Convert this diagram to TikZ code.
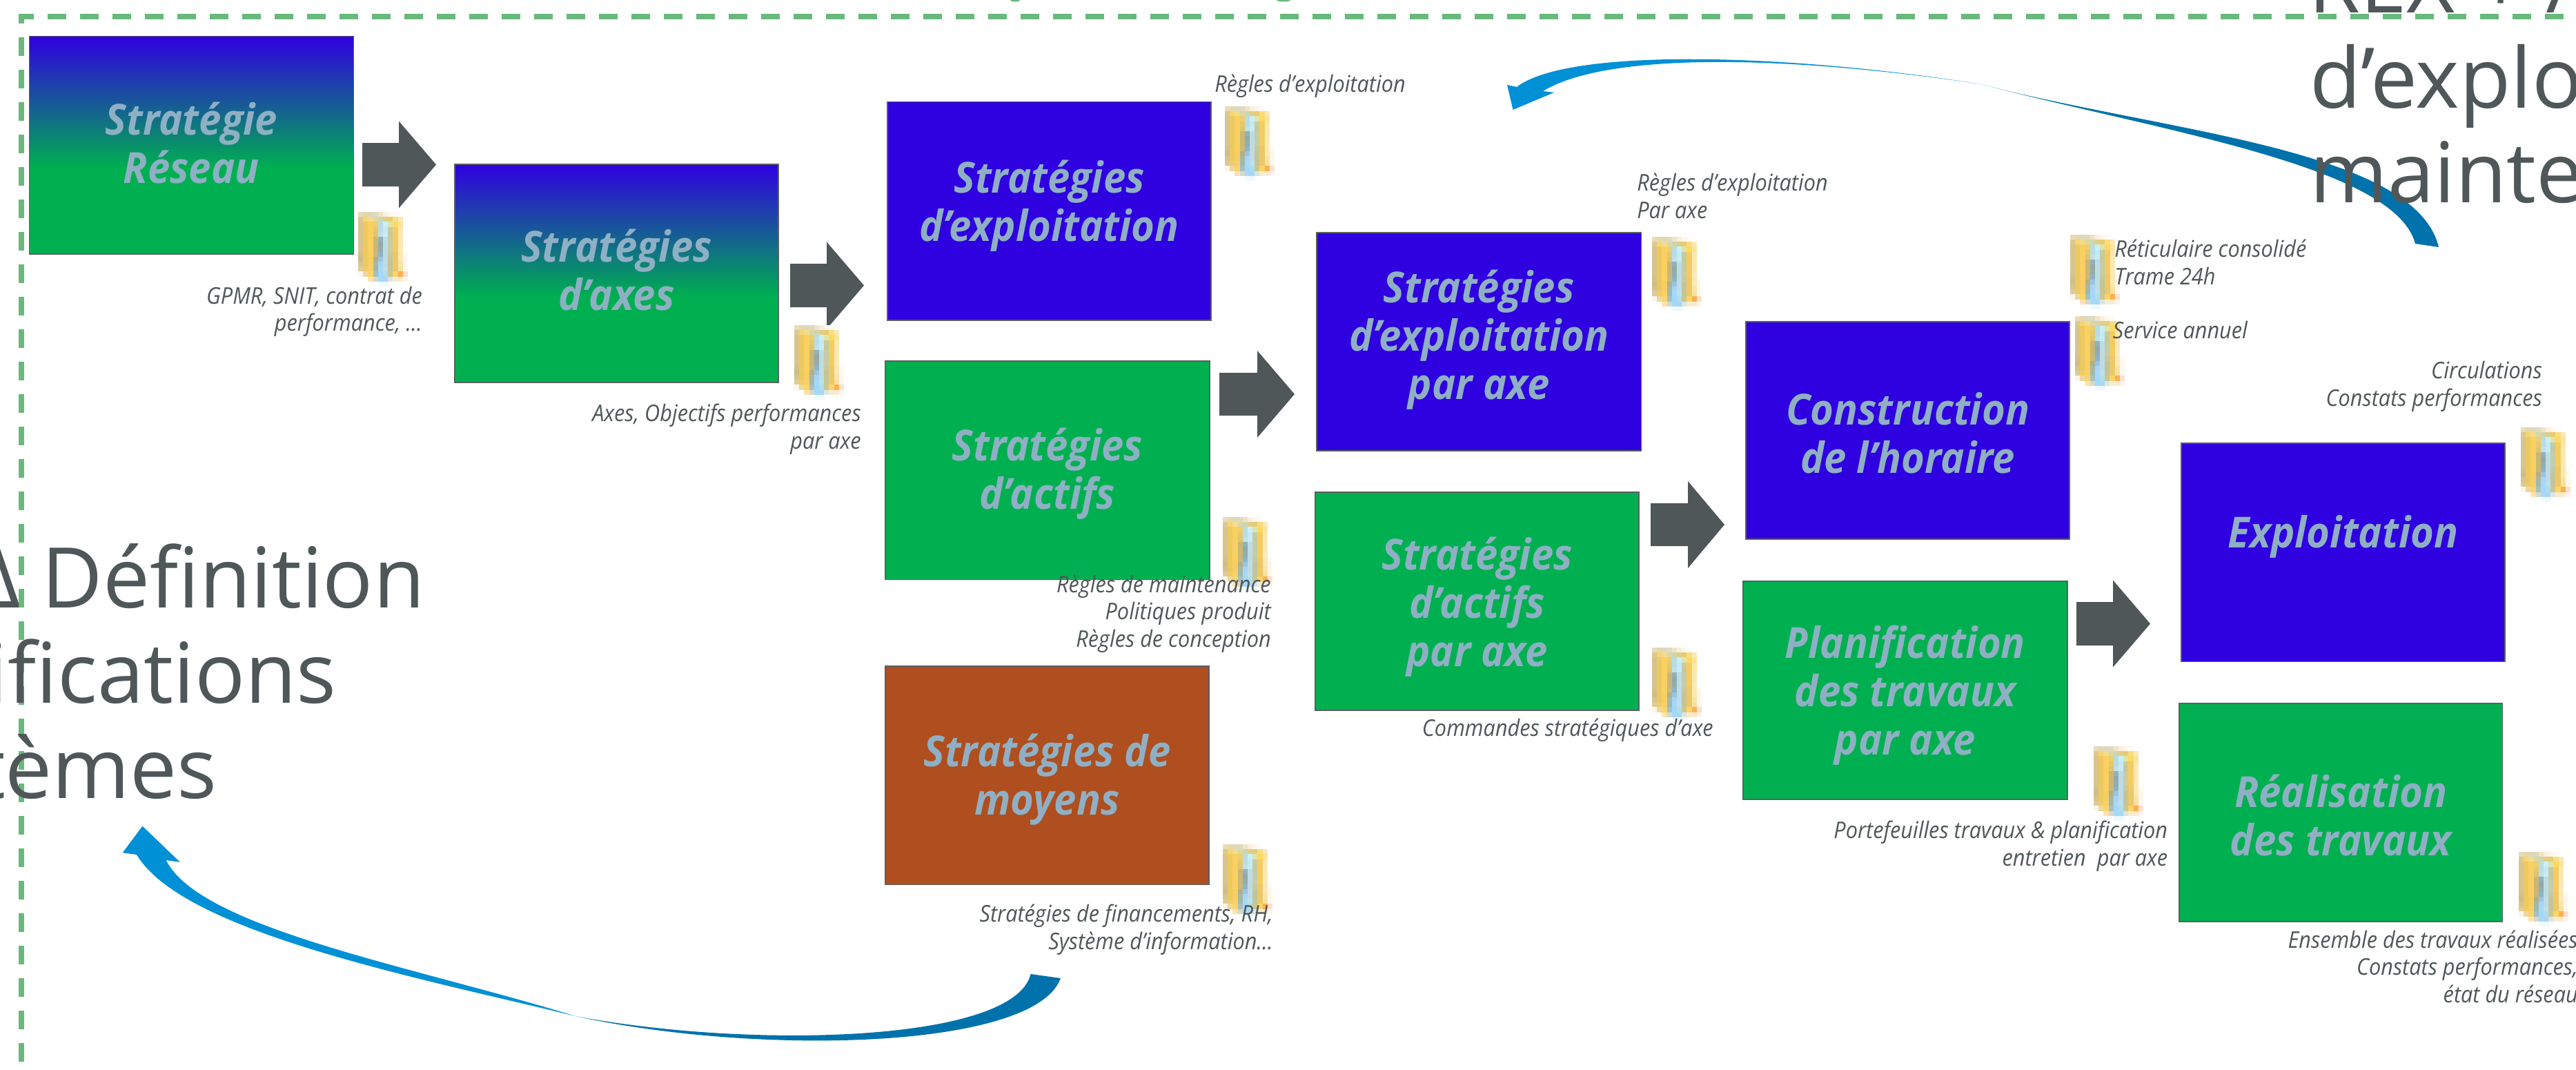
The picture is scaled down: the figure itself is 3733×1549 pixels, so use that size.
\documentclass[tikz,border=0pt]{standalone}
\usepackage{fontspec}
\usetikzlibrary{calc}
\setmainfont{Open Sans}
\newfontfamily\boxfont[FakeStretch=0.935]{Open Sans}
\newfontfamily\notefont[FakeStretch=0.92]{Open Sans}
\definecolor{bluex}{HTML}{2F00E0}
\definecolor{greenx}{HTML}{00B050}
\definecolor{brownx}{HTML}{AF4E1E}
\definecolor{labelx}{HTML}{8FB0C4}
\definecolor{grayx}{HTML}{4F5759}
\definecolor{edgex}{HTML}{5A6062}
\definecolor{dashx}{HTML}{69B97C}
\definecolor{curveA}{HTML}{0090D6}
\definecolor{curveB}{HTML}{0072AB}
\pgfdeclareverticalshading{stratshade}{100bp}{color(0bp)=(greenx); color(44.5bp)=(greenx); color(75bp)=(bluex); color(100bp)=(bluex)}
\newcommand{\iconrow}[3]{%
  \foreach \c [count=\i from #2] in {#3} {%
    \definecolor{iccell}{HTML}{\c}%
    \fill[iccell] ({(\i)*7.2},{(#1)*7.2}) rectangle ({(\i+1)*7.2+.4},{(#1+1)*7.2+.4});
  }}
\tikzset{
  x=0.75pt,y=-0.75pt,
  boxbase/.style={rectangle,draw=edgex,line width=1.3pt,inner sep=0pt,anchor=north west},
  bluebox/.style={boxbase,fill=bluex},
  greenbox/.style={boxbase,fill=greenx},
  brownbox/.style={boxbase,fill=brownx},
  gradbox/.style={boxbase,shading=stratshade},
  boxlabel/.style={text=labelx,align=center,inner sep=0pt,anchor=center,
    font=\boxfont\bfseries\itshape\fontsize{46.5}{52.5}\selectfont},
  noteR/.style={text=grayx,align=right,inner sep=0pt,anchor=base east,
    font=\notefont\itshape\fontsize{25}{29.5}\selectfont},
  noteL/.style={text=grayx,align=left,inner sep=0pt,anchor=base west,
    font=\notefont\itshape\fontsize{25}{29.5}\selectfont},
  bigR/.style={text=grayx,inner sep=0pt,anchor=base east,font=\fontsize{91}{103}\selectfont},
  bigL/.style={text=grayx,inner sep=0pt,anchor=base west,font=\fontsize{91}{103}\selectfont},
  blockarrow/.style={fill=grayx,draw=none},
  foldericon/.pic={
    \iconrow{0}{0}{E8DCB8,E4D8AC,DDD8BC,DDDABF,F2E2C4,FAEEDC,FDF6EC,FEFBF6}
    \iconrow{1}{0}{DCC890,F6D672,F4DC8C,D8D8A8,CFD6AE,E0CE88,E8CC70,FADC80,FBE8B8}
    \iconrow{2}{0}{D8C48C,EEC860,FAD060,ECCE70,B8DCE0,C8F0F8,E0E4A8,FCDA60,F8E49C}
    \iconrow{3}{0}{D8C48C,ECC860,FAD060,E4C870,B8DCE4,C4E8F4,C4CCA0,F4CC60,FCE8AC}
    \iconrow{4}{0}{D8C48C,ECC860,FAD060,E0C470,C0E0E8,C4ECF8,C8C898,F4CC60,FCE8B0}
    \iconrow{5}{0}{D8C490,ECC860,FAD060,C8B878,94B0B8,BCDCE8,C4CCA8,F4CC60,FCE8B4}
    \iconrow{6}{0}{D8C490,ECC860,FAD060,C8B878,94A8A8,BCDCE4,C4CCA8,F4CC60,FCE8B4}
    \iconrow{7}{0}{D8C490,ECC860,FAD060,C8B878,94ACB0,BCDCE4,C8CCA8,F4CC60,FCEAB8}
    \iconrow{8}{0}{D4C088,ECC860,FAD060,CCB878,8CB4C8,BCDCE4,C8C8A0,ECC868,FCE8B0,FEFAF0}
    \iconrow{9}{0}{D0BC88,ECC860,F8CE60,B0B088,9CC4E0,BCDCE8,C4C498,ECC868,FBE8B4,FEF8EC}
    \iconrow{10}{0}{D4C490,ECC860,F8CE60,A4B8A8,A8D4F4,BCDCE8,C4C498,ECC868,FAE4A8,FEF8EC}
    \iconrow{11}{0}{DCCC9C,F0CC68,F8D068,A0B8B0,A8D8F8,BCE0EC,C4C498,ECC868,F8E0A0,FEF8EC}
    \iconrow{12}{0}{FAF6EC,ECD8A0,FCD468,A4C0C0,A0D8FC,B0DCF0,C8C890,FCD468,FCB050,FCE0D0}
    \iconrow{13}{2}{FCE4B0,D8D8C8,A4D8FC,A8D8F0,DCE4E4,F8ECD0,FAEBD0,FDF4EC}
    \iconrow{14}{4}{F0FAFE,F0F8FE}
  },
}
\newcommand{\blockarr}[6]{% x0, xbase, xtip, yshafttop, yshaftbot, half head
  \fill[blockarrow] (#1,#4) -- (#2,#4) -- (#2,{(#4+#5)/2-#6}) -- (#3,{(#4+#5)/2}) -- (#2,{(#4+#5)/2+#6}) -- (#2,#5) -- (#1,#5) -- cycle;}
\begin{document}
\begin{tikzpicture}
\path[use as bounding box,clip] (0,0) rectangle (3733,1549);
\fill[white] (0,0) rectangle (3733,1549);

% dashed frame and clipped fragments
\fill[dashx] (1471,0) ellipse [x radius=7,y radius=2.5];
\fill[dashx] (1860,0) ellipse [x radius=10,y radius=2.5];
\draw[dashx,line width=5.3pt,dash pattern=on 20.25pt off 15pt,dash phase=3.75pt] (27,24) -- (3733,24);
\draw[dashx,line width=5.3pt,dash pattern=on 20.25pt off 15pt,dash phase=12.75pt] (31,24) -- (31,1549);

% curved arrows
\fill[curveA] (2192.5,159) -- (2184,123) -- (2198,126)
  .. controls (2270,70) and (2580,76) .. (2871,122)
  .. controls (2590,80) and (2330,75) .. (2236,132)
  -- (2252,134) -- cycle;
\fill[curveB] (2871,122) .. controls (3130,190) and (3500,215) .. (3534,358)
  -- (3500,353) .. controls (3470,240) and (3130,190) .. (2871,122) -- cycle;
\fill[curveA] (206.4,1196.7) -- (177.7,1235.3) -- (198,1238)
  .. controls (265,1350) and (600,1415) .. (834,1472)
  .. controls (600,1400) and (290,1345) .. (240.6,1246)
  -- (261,1249) -- cycle;
\fill[curveB] (834,1472) .. controls (1100,1530) and (1500,1520) .. (1537,1417)
  -- (1493.6,1411) .. controls (1470,1510) and (1090,1520) .. (834,1472) -- cycle;

% big texts
\node[bigR] (bigA) at (616,880) {Δ Définition};
\node[bigR] (bigB) at (488,1018) {ifications};
\node[bigR] (bigC) at (315,1156) {tèmes};
\node[bigL] (bigD) at (3345,18) {REX + A};
\node[bigL] (bigE) at (3347,156) {d’explo};
\node[bigL] (bigF) at (3347,293) {mainte};

% boxes
\node[gradbox,minimum width=352.5pt,minimum height=236.5pt] (reseau) at (41.5,51.5) {};
\node[gradbox,minimum width=352pt,minimum height=237pt] (axes) at (658,237) {};
\node[bluebox,minimum width=352pt,minimum height=237.5pt] (expl) at (1285,146.5) {};
\node[greenbox,minimum width=352.5pt,minimum height=237.5pt] (actifs) at (1282,522) {};
\node[brownbox,minimum width=352pt,minimum height=237.5pt] (moyens) at (1282,964) {};
\node[bluebox,minimum width=353pt,minimum height=237pt] (explaxe) at (1907,336) {};
\node[greenbox,minimum width=352pt,minimum height=237pt] (actaxe) at (1905,712) {};
\node[bluebox,minimum width=352pt,minimum height=236.5pt] (constr) at (2529,465) {};
\node[greenbox,minimum width=352.5pt,minimum height=237pt] (planif) at (2525,841) {};
\node[bluebox,minimum width=352pt,minimum height=237.5pt] (exploit) at (3160,641) {};
\node[greenbox,minimum width=351.5pt,minimum height=237pt] (realis) at (3157,1018) {};

% box labels
\node[boxlabel] (reseauT) at ($(reseau.center)+(0,-3)$) {Stratégie\\Réseau};
\node[boxlabel] (axesT) at ($(axes.center)+(0,-5)$) {Stratégies\\d’axes};
\node[boxlabel] (explT) at ($(expl.center)+(0,-8)$) {Stratégies\\d’exploitation};
\node[boxlabel] (actifsT) at ($(actifs.center)+(0,5)$) {Stratégies\\d’actifs};
\node[boxlabel] (moyensT) at ($(moyens.center)+(0,6)$) {Stratégies de\\moyens};
\node[boxlabel] (explaxeT) at ($(explaxe.center)+(0,-3)$) {Stratégies\\d’exploitation\\par axe};
\node[boxlabel] (actaxeT) at ($(actaxe.center)+(0,8)$) {Stratégies\\d’actifs\\par axe};
\node[boxlabel] (constrT) at ($(constr.center)+(0,4)$) {Construction\\de l’horaire};
\node[boxlabel] (planifT) at ($(planif.center)+(0,7)$) {Planification\\des travaux\\par axe};
\node[boxlabel] (exploitT) at ($(exploit.center)+(0,-23)$) {Exploitation};
\node[boxlabel] (realisT) at ($(realis.center)+(0,4)$) {Réalisation\\des travaux};

% block arrows
\blockarr{525}{578}{632}{207}{270}{63}
\blockarr{1145}{1198}{1252}{382}{445}{63}
\blockarr{1767}{1822}{1876}{540}{602}{63}
\blockarr{2392}{2446}{2499}{729}{791}{63}
\blockarr{3009}{3062}{3116}{872}{935}{63}

% icons
\foreach \p in {(519,307),(1151,471),(1775,154),(1772,749),(1772,1223),(2394,343),(2394,938),(3000,340),(3007,458),(3653,619),(3034,1081),(3650,1234)}
  \pic at \p {foldericon};

% notes
\node[noteR] (n1) at (612,479.5) {GPMR, SNIT, contrat de\\performance, …};
\node[noteR] (n2) at (1248,650) {Axes, Objectifs performances\\par axe};
\node[noteL] (n3) at (1760,133.5) {Règles d’exploitation};
\node[noteL] (n4) at (2372,316) {Règles d’exploitation\\Par axe};
\node[noteL] (n5) at (3064,412) {Réticulaire consolidé\\Trame 24h};
\node[noteL] (n6) at (3061.5,490) {Service annuel};
\node[noteR] (n7) at (3684,588) {Circulations\\Constats performances};
\node[noteR] (n8) at (1842,937) {Règles de maintenance\\Politiques produit\\Règles de conception};
\node[noteR] (n9) at (1845,1375) {Stratégies de financements, RH,\\Système d’information…};
\node[noteR] (n10) at (2483,1066) {Commandes stratégiques d’axe};
\node[noteR] (n11) at (3141.5,1254) {Portefeuilles travaux \& planification\\entretien\ \ par axe};
\node[noteR] (n12) at (3736,1452) {Ensemble des travaux réalisées\\Constats performances,\\état du réseau};
\end{tikzpicture}
\end{document}
